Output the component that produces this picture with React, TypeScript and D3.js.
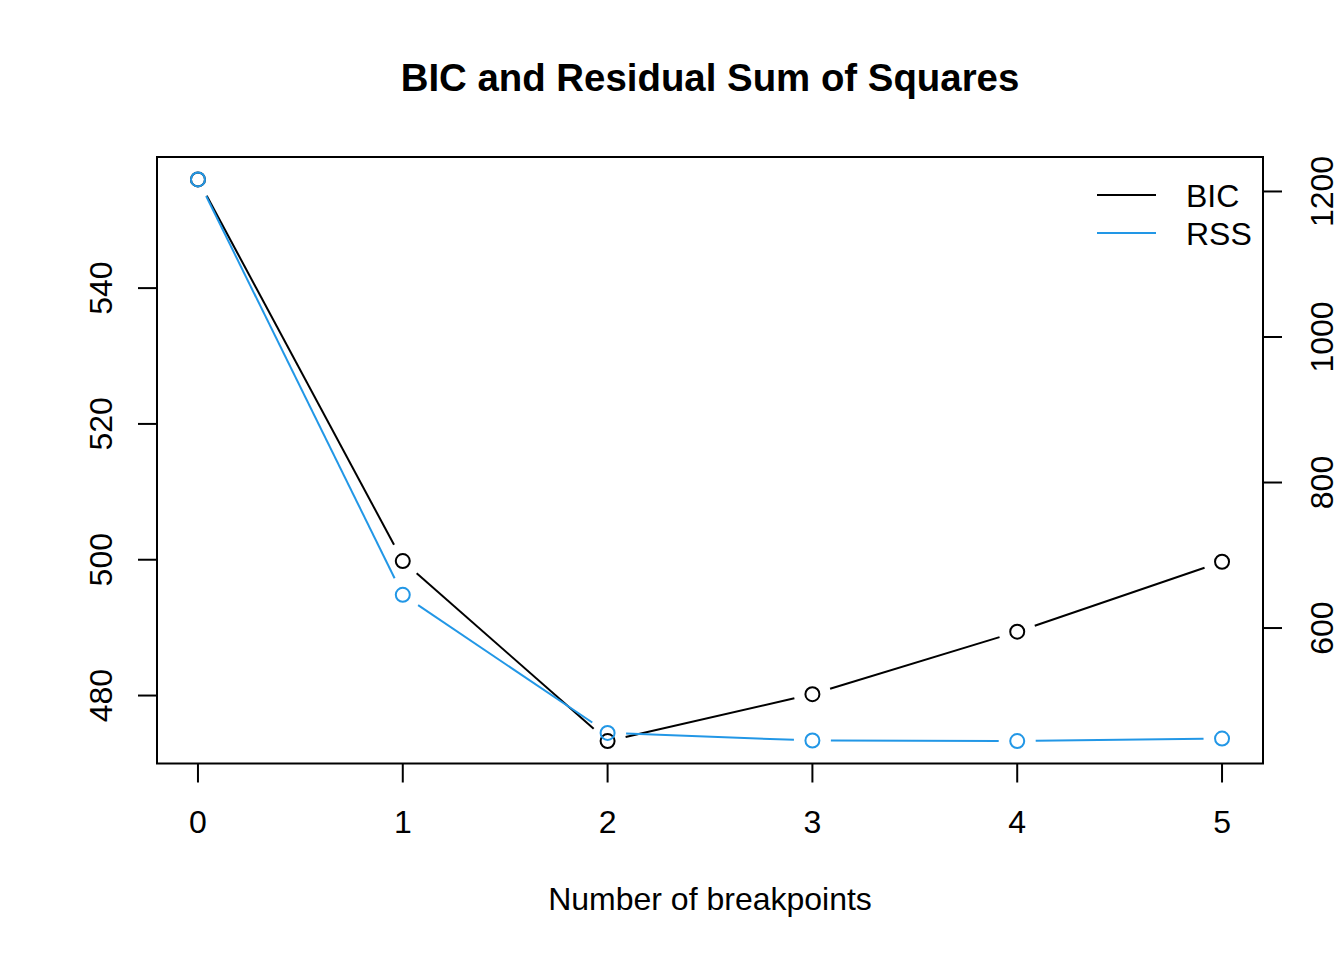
import * as d3 from 'd3'

// breakpoints on the x axis
const breakpoints = [0, 1, 2, 3, 4, 5]
// BIC (left axis) and RSS (right axis)
const bicValues = [556.0, 499.8, 473.3, 480.2, 489.4, 499.7]
const rssValues = [1216.5, 645.7, 455.9, 445.4, 444.7, 448.1]
const leftTicks = [480, 500, 520, 540]
const rightTicks = [600, 800, 1000, 1200]

const series = [
  { name: 'BIC', values: bicValues, color: '#000000', axis: 'left' },
  { name: 'RSS', values: rssValues, color: '#2297E6', axis: 'right' },
]

const W = 1344
const H = 960
const box = { left: 157, right: 1263, top: 157, bottom: 763.5 }
const FONT = '"Liberation Sans", Arial, Helvetica, sans-serif'
const TICK = 19
const GAP = 18.5 // type="b" style gap around each point
const RADIUS = 7

// R style: pad the data range by 4% on each side
function padded(values: number[]): [number, number] {
  const [lo, hi] = d3.extent(values) as [number, number]
  const p = (hi - lo) * 0.04
  return [lo - p, hi + p]
}

const x = d3.scaleLinear().domain(padded(breakpoints)).range([box.left, box.right])
const yLeft = d3.scaleLinear().domain(padded(bicValues)).range([box.bottom, box.top])
const yRight = d3.scaleLinear().domain(padded(rssValues)).range([box.bottom, box.top])

function Series({ values, color, scale }: { values: number[]; color: string; scale: d3.ScaleLinear<number, number> }) {
  const pts = values.map((v, i) => [x(breakpoints[i]), scale(v)] as [number, number])
  const segs = d3.pairs(pts).map(([a, b], i) => {
    const dx = b[0] - a[0]
    const dy = b[1] - a[1]
    const len = Math.hypot(dx, dy)
    if (len <= 2 * GAP) return null
    const ux = dx / len
    const uy = dy / len
    return (
      <line key={i}
        x1={a[0] + ux * GAP} y1={a[1] + uy * GAP}
        x2={b[0] - ux * GAP} y2={b[1] - uy * GAP}
        stroke={color} strokeWidth={2} />
    )
  })
  return (
    <g>
      {segs}
      {pts.map((p, i) => (
        <circle key={i} cx={p[0]} cy={p[1]} r={RADIUS} fill="none" stroke={color} strokeWidth={2} />
      ))}
    </g>
  )
}

export default function App() {
  return (
    <svg width={W} height={H} style={{ position: 'absolute', left: 0, top: 0, background: '#fff' }}
      fontFamily={FONT}>
      <rect x={0} y={0} width={W} height={H} fill="#fff" />

      <text x={(box.left + box.right) / 2} y={91} textAnchor="middle" fontSize={38.4} fontWeight="bold">
        BIC and Residual Sum of Squares
      </text>

      {/* x axis */}
      {breakpoints.map(b => (
        <g key={b}>
          <line x1={x(b)} x2={x(b)} y1={box.bottom} y2={box.bottom + TICK} stroke="#000" strokeWidth={2} />
          <text x={x(b)} y={833} textAnchor="middle" fontSize={32}>{b}</text>
        </g>
      ))}
      <text x={(box.left + box.right) / 2} y={910} textAnchor="middle" fontSize={32}>Number of breakpoints</text>

      {/* left axis */}
      {leftTicks.map(t => (
        <g key={t}>
          <line x1={box.left - TICK} x2={box.left} y1={yLeft(t)} y2={yLeft(t)} stroke="#000" strokeWidth={2} />
          <text transform={`translate(112,${yLeft(t)}) rotate(-90)`} textAnchor="middle" fontSize={32}>{t}</text>
        </g>
      ))}

      {/* right axis */}
      {rightTicks.map(t => (
        <g key={t}>
          <line x1={box.right} x2={box.right + TICK} y1={yRight(t)} y2={yRight(t)} stroke="#000" strokeWidth={2} />
          <text transform={`translate(1333,${yRight(t)}) rotate(-90)`} textAnchor="middle" fontSize={32}>{t}</text>
        </g>
      ))}

      <Series values={bicValues} color={series[0].color} scale={yLeft} />
      <Series values={rssValues} color={series[1].color} scale={yRight} />

      <rect x={box.left} y={box.top} width={box.right - box.left} height={box.bottom - box.top}
        fill="none" stroke="#000" strokeWidth={2} />

      {/* legend */}
      {series.map((s, i) => (
        <g key={s.name} transform={`translate(0,${195 + i * 38})`}>
          <line x1={1097} x2={1156} y1={0} y2={0} stroke={s.color} strokeWidth={2} />
          <text x={1186} y={11.5} fontSize={32}>{s.name}</text>
        </g>
      ))}
    </svg>
  )
}
